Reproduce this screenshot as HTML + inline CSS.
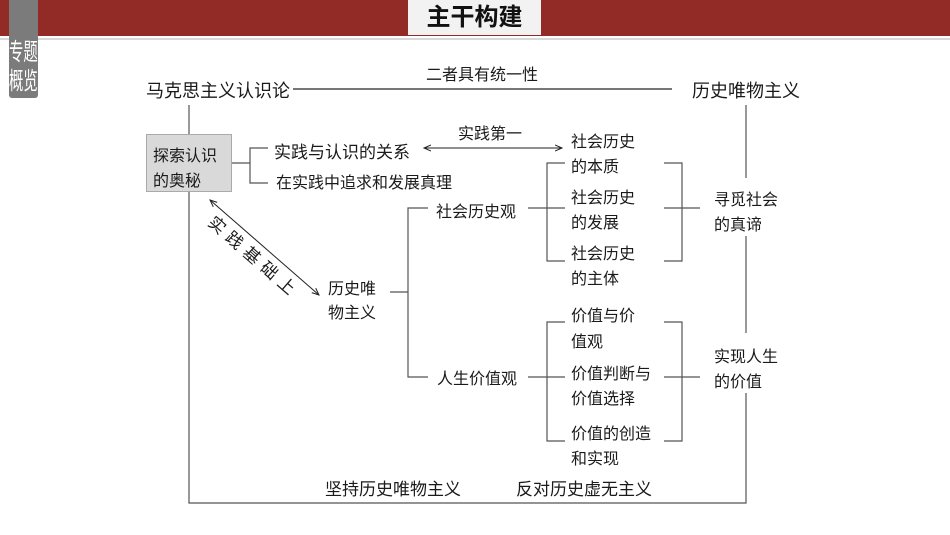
<!DOCTYPE html>
<html><head><meta charset="utf-8"><style>
body{margin:0;width:950px;height:535px;background:#fff;position:relative;overflow:hidden;font-family:"Liberation Sans","Noto Sans CJK SC",sans-serif;color:#1a1a1a}
.t{position:absolute;font-size:16px;line-height:20px;white-space:nowrap}
.b{font-size:18px}
</style></head><body>
<div style="position:absolute;left:0;top:0;width:950px;height:36px;background:#922a26"></div>
<div style="position:absolute;left:0;top:38px;width:950px;height:2px;background:#d8d8d8"></div>
<div style="position:absolute;left:408px;top:0;width:133px;height:35px;background:#f2f2f2;text-align:center;font-size:24px;font-weight:bold;line-height:36px;color:#111">主干构建</div>
<div style="position:absolute;left:9px;top:0;width:29px;height:98px;background:#7b7b7b;border-radius:0 0 3px 3px"></div>
<div class="t" style="left:9px;top:38px;font-size:24px;line-height:29px;color:#fff;width:50px;transform:scaleX(0.6);transform-origin:0 0">专题<br>概览</div>
<svg width="950" height="535" style="position:absolute;left:0;top:0" fill="none" stroke="#555" stroke-width="1.2">
<defs><marker id="a" markerWidth="8" markerHeight="8" refX="7" refY="4" orient="auto-start-reverse"><path d="M0,1 L7,4 L0,7" stroke="#222" stroke-width="1"/></marker></defs>
<line x1="293" y1="89" x2="672" y2="89" stroke="#777" stroke-width="2"/>
<polyline points="189,105 189,134"/>
<polyline points="189,192 189,503 746,503 746,393"/>
<line x1="746" y1="333" x2="746" y2="236"/>
<line x1="746" y1="178" x2="746" y2="105"/>
<polyline points="232,163 250,163"/>
<polyline points="268,148 250,148 250,183 268,183"/>
<line x1="424" y1="148" x2="562" y2="148" stroke="#222" stroke-width="1" marker-start="url(#a)" marker-end="url(#a)"/>
<line x1="210" y1="200" x2="319" y2="295" stroke="#222" stroke-width="1" marker-start="url(#a)" marker-end="url(#a)"/>
<line x1="390" y1="292" x2="408" y2="292"/>
<polyline points="428,208 408,208 408,377 428,377"/>
<line x1="528" y1="208" x2="565" y2="208"/>
<polyline points="565,163 547,163 547,261 565,261"/>
<polyline points="664,163 682,163 682,261 664,261"/>
<line x1="664" y1="208" x2="700" y2="208"/>
<line x1="528" y1="377" x2="565" y2="377"/>
<polyline points="565,322 547,322 547,441 565,441"/>
<polyline points="664,322 682,322 682,441 664,441"/>
<line x1="664" y1="377" x2="700" y2="377"/>
</svg>
<div style="position:absolute;left:146px;top:134px;width:84px;height:56px;background:#d9d9d9;border:1px solid #aaa"></div>
<div class="t" style="left:153px;top:144px;line-height:25px">探索认识<br>的奥秘</div>
<div class="t b" style="left:146px;top:81px">马克思主义认识论</div>
<div class="t b" style="left:692px;top:81px">历史唯物主义</div>
<div class="t" style="left:426px;top:66px">二者具有统一性</div>
<div class="t b" style="left:274px;top:143px;font-size:17px">实践与认识的关系</div>
<div class="t" style="left:276px;top:174px">在实践中追求和发展真理</div>
<div class="t" style="left:458px;top:125px">实践第一</div>
<div class="t" style="left:196px;top:248px;font-size:17px;transform:rotate(41deg);letter-spacing:6px">实践基础上</div>
<div class="t" style="left:328px;top:278px;line-height:24px">历史唯<br>物主义</div>
<div class="t" style="left:436px;top:203px">社会历史观</div>
<div class="t" style="left:437px;top:370px">人生价值观</div>
<div class="t" style="left:571px;top:130px;line-height:25px">社会历史<br>的本质</div>
<div class="t" style="left:571px;top:186px;line-height:25px">社会历史<br>的发展</div>
<div class="t" style="left:571px;top:242px;line-height:25px">社会历史<br>的主体</div>
<div class="t" style="left:571px;top:304px;line-height:26px">价值与价<br>值观</div>
<div class="t" style="left:571px;top:362px;line-height:25px">价值判断与<br>价值选择</div>
<div class="t" style="left:571px;top:422px;line-height:25px">价值的创造<br>和实现</div>
<div class="t" style="left:714px;top:188px;line-height:25px">寻觅社会<br>的真谛</div>
<div class="t" style="left:714px;top:345px;line-height:25px">实现人生<br>的价值</div>
<div class="t" style="left:325px;top:480px;font-size:17px">坚持历史唯物主义</div>
<div class="t" style="left:516px;top:480px;font-size:17px">反对历史虚无主义</div>
</body></html>
